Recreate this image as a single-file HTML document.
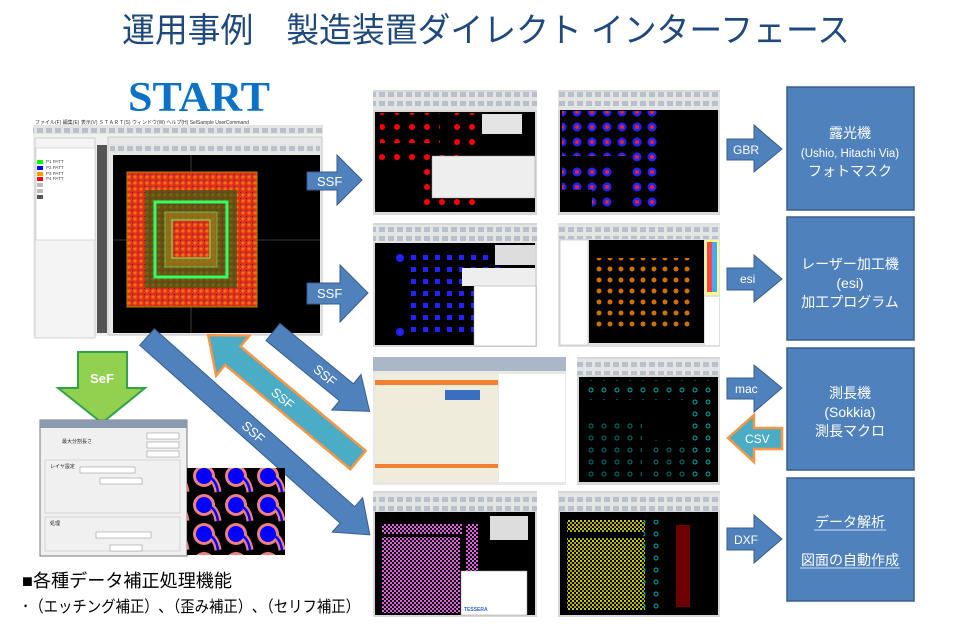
<!DOCTYPE html>
<html><head><meta charset="utf-8">
<style>
html,body{margin:0;padding:0;background:#fff;width:960px;height:626px;overflow:hidden}
svg{display:block}
text{font-family:"Liberation Sans","Noto Sans CJK JP",sans-serif}
</style></head><body>
<svg width="960" height="626" viewBox="0 0 960 626" xmlns="http://www.w3.org/2000/svg">
<defs>
<pattern id="red" width="15" height="15" patternUnits="userSpaceOnUse"><circle cx="7" cy="7" r="3" fill="#f00"/></pattern>
<pattern id="bluered" width="15" height="15" patternUnits="userSpaceOnUse"><circle cx="7" cy="7" r="4.5" fill="#22f"/><circle cx="7" cy="7" r="2" fill="#e22"/></pattern>
<pattern id="bluesq" width="12" height="12" patternUnits="userSpaceOnUse"><rect x="3" y="3" width="5" height="5" fill="#22f"/></pattern>
<pattern id="orange" width="11" height="11" patternUnits="userSpaceOnUse"><circle cx="5" cy="5" r="2.5" fill="#d07000"/></pattern>
<pattern id="pink" width="4" height="4" patternUnits="userSpaceOnUse"><rect width="2" height="2" fill="#e060e0"/><rect x="2" y="2" width="2" height="2" fill="#e060e0"/></pattern>
<pattern id="yel" width="4" height="4" patternUnits="userSpaceOnUse"><rect width="2" height="2" fill="#cc0"/><rect x="2" y="2" width="2" height="2" fill="#aa0"/></pattern>
<pattern id="cyanc" width="13" height="12" patternUnits="userSpaceOnUse"><circle cx="6" cy="6" r="2" fill="none" stroke="#0aa" stroke-width="1"/></pattern>
<pattern id="chip" width="6" height="6" patternUnits="userSpaceOnUse"><rect width="6" height="6" fill="#e03010"/><circle cx="3" cy="3" r="1.6" fill="#f07020"/><rect x="0" y="0" width="1" height="1" fill="#22a"/></pattern>
<pattern id="tb" width="9" height="9" patternUnits="userSpaceOnUse"><rect width="9" height="9" fill="#e4e4e4"/><rect x="1" y="2" width="6" height="5" fill="#b8c0cc"/></pattern>
<pattern id="pads" width="32" height="29" patternUnits="userSpaceOnUse"><rect width="32" height="29" fill="#000"/><path d="M14 12 Q24 14 26 28" stroke="#f08080" stroke-width="7" fill="none"/><circle cx="12" cy="12" r="11" fill="#f08080"/><circle cx="12" cy="12" r="8" fill="#0000ff"/><path d="M14 12 Q24 14 26 28" stroke="#00f" stroke-width="2.5" fill="none"/></pattern>
</defs>

<text x="122" y="42" font-size="34" fill="#1f497d" textLength="728" lengthAdjust="spacingAndGlyphs">運用事例　製造装置ダイレクト インターフェース</text>

<text x="128" y="111" font-size="42" font-weight="bold" fill="#0b72c6" style="font-family:'Liberation Serif',serif" textLength="142" lengthAdjust="spacingAndGlyphs">START</text>

<rect x="33" y="118" width="290" height="218" fill="#f0f0f0"/>
<rect x="33" y="118" width="290" height="7" fill="#fff"/>
<text x="35" y="124" font-size="5" fill="#333">ファイル(F)  編集(E)  表示(V)  ＳＴＡＲＴ(S)  ウィンドウ(W)  ヘルプ(H)  SelSample  UserCommand</text>
<rect x="33" y="125" width="290" height="9" fill="url(#tb)"/>
<rect x="35" y="138" width="60" height="200" fill="#f4f4f4" stroke="#aaa" stroke-width="0.5"/>
<rect x="36" y="148" width="59" height="92" fill="#fff" stroke="#bbb" stroke-width="0.5"/>
<rect x="37" y="160" width="6" height="4" fill="#0f0"/><rect x="37" y="166" width="6" height="4" fill="#00f"/><rect x="37" y="172" width="6" height="4" fill="#f90"/><rect x="37" y="177" width="6" height="4" fill="#f00"/><rect x="37" y="183" width="6" height="4" fill="#bbb"/><rect x="37" y="189" width="6" height="4" fill="#bbb"/><rect x="37" y="195" width="6" height="4" fill="#555"/>
<text x="46" y="163" font-size="4.5" fill="#444">P1 PATT</text><text x="46" y="169" font-size="4.5" fill="#444">P2 PATT</text><text x="46" y="175" font-size="4.5" fill="#444">P3 PATT</text><text x="46" y="180" font-size="4.5" fill="#444">P4 PATT</text>
<rect x="97" y="145" width="10" height="188" fill="#555"/>
<rect x="108" y="137" width="214" height="198" fill="#e8e8e8" stroke="#aaa" stroke-width="0.5"/>
<rect x="110" y="144" width="210" height="9" fill="url(#tb)"/>
<rect x="113" y="155" width="207" height="178" fill="#000"/>
<line x1="113" y1="240" x2="320" y2="240" stroke="#666" stroke-width="0.6"/>
<line x1="191" y1="155" x2="191" y2="333" stroke="#666" stroke-width="0.6"/>
<rect x="127" y="172" width="130" height="135" fill="url(#chip)" stroke="#aa8800"/>
<rect x="145" y="190" width="92" height="98" fill="#1a6010" opacity="0.6"/>
<rect x="155" y="202" width="72" height="75" fill="none" stroke="#33ff66" stroke-width="3"/>
<rect x="165" y="212" width="52" height="55" fill="#b08020" opacity="0.6" stroke="#6f6" stroke-width="1"/>
<rect x="172" y="220" width="38" height="38" fill="url(#chip)" stroke="#6f6"/>

<g>
<rect x="373" y="90" width="164" height="125" fill="#d8d8d8"/><rect x="373" y="92" width="164" height="18" fill="url(#tb)"/>
<rect x="375" y="112" width="160" height="100" fill="#000"/>
<rect x="380" y="113" width="60" height="30" fill="url(#red)"/><rect x="446" y="113" width="30" height="40" fill="url(#red)"/><rect x="378" y="150" width="50" height="18" fill="url(#red)"/><rect x="418" y="155" width="40" height="55" fill="url(#red)"/><rect x="448" y="160" width="28" height="52" fill="url(#red)"/>
<rect x="432" y="156" width="103" height="42" fill="#eee" stroke="#999" stroke-width="0.5"/><rect x="482" y="114" width="40" height="20" fill="#e4e4e4"/>
<rect x="558" y="90" width="162" height="125" fill="#d8d8d8"/><rect x="558" y="92" width="162" height="18" fill="url(#tb)"/>
<rect x="560" y="110" width="158" height="102" fill="#000"/>
<rect x="562" y="111" width="98" height="45" fill="url(#bluered)"/><rect x="632" y="111" width="27" height="100" fill="url(#bluered)"/><rect x="562" y="165" width="50" height="25" fill="url(#bluered)"/><rect x="592" y="170" width="25" height="42" fill="url(#bluered)"/>
<rect x="373" y="223" width="164" height="124" fill="#d8d8d8"/><rect x="373" y="225" width="164" height="18" fill="url(#tb)"/>
<rect x="375" y="243" width="160" height="102" fill="#000"/>
<rect x="405" y="248" width="100" height="90" fill="url(#bluesq)"/><circle cx="400" cy="258" r="4" fill="#22f"/><circle cx="400" cy="332" r="4" fill="#22f"/>
<rect x="462" y="268" width="73" height="18" fill="#eee"/><rect x="474" y="286" width="62" height="60" fill="#fff" stroke="#999" stroke-width="0.5"/><rect x="495" y="245" width="40" height="20" fill="#ddd"/>
<rect x="558" y="223" width="162" height="124" fill="#e0e0e0"/><rect x="558" y="225" width="162" height="14" fill="url(#tb)"/>
<rect x="560" y="240" width="28" height="105" fill="#fff" stroke="#aaa" stroke-width="0.5"/>
<rect x="589" y="240" width="115" height="103" fill="#000"/>
<rect x="594" y="258" width="100" height="70" fill="url(#orange)"/>
<rect x="705" y="240" width="14" height="55" fill="#ff8"/><rect x="707" y="242" width="5" height="50" fill="#f44"/><rect x="712" y="242" width="5" height="50" fill="#4af"/><rect x="705" y="297" width="14" height="48" fill="#fff"/>
<rect x="373" y="357" width="193" height="128" fill="#e8e8e8"/><rect x="373" y="357" width="193" height="14" fill="#4d6e96" opacity="0.4"/>
<rect x="375" y="374" width="123" height="108" fill="#f0ecdc"/><rect x="375" y="380" width="123" height="5" fill="#f08030"/><rect x="375" y="464" width="123" height="4" fill="#f08030"/><rect x="445" y="390" width="35" height="10" fill="#3a6fc0"/>
<rect x="499" y="374" width="66" height="108" fill="#fff"/>
<rect x="577" y="357" width="143" height="128" fill="#d8d8d8"/><rect x="577" y="359" width="143" height="16" fill="url(#tb)"/>
<rect x="579" y="377" width="139" height="105" fill="#000"/>
<rect x="582" y="380" width="135" height="20" fill="url(#cyanc)"/><rect x="690" y="400" width="27" height="80" fill="url(#cyanc)"/><rect x="582" y="420" width="60" height="60" fill="url(#cyanc)" opacity="0.7"/><rect x="650" y="440" width="40" height="40" fill="url(#cyanc)" opacity="0.7"/>
<rect x="373" y="491" width="164" height="126" fill="#d8d8d8"/><rect x="373" y="493" width="164" height="18" fill="url(#tb)"/>
<rect x="375" y="512" width="160" height="103" fill="#000"/>
<rect x="382" y="524" width="80" height="10" fill="url(#pink)"/><rect x="382" y="537" width="78" height="76" fill="url(#pink)"/><rect x="466" y="524" width="12" height="90" fill="url(#pink)"/>
<rect x="490" y="516" width="38" height="24" fill="#ddd"/><rect x="461" y="571" width="66" height="44" fill="#fff" stroke="#999" stroke-width="0.5"/><text x="464" y="611" font-size="5" fill="#36c" font-weight="bold">TESSERA</text>
<rect x="558" y="491" width="162" height="126" fill="#d8d8d8"/><rect x="558" y="493" width="162" height="18" fill="url(#tb)"/>
<rect x="560" y="512" width="158" height="103" fill="#000"/>
<rect x="567" y="520" width="78" height="12" fill="url(#yel)"/><rect x="567" y="538" width="78" height="72" fill="url(#yel)"/><rect x="643" y="520" width="18" height="90" fill="url(#cyanc)"/>
<rect x="676" y="525" width="14" height="82" fill="#800" opacity="0.8"/>
</g>

<path d="M307,172 L337,172 L337,155 L362,180 L337,205 L337,190 L307,190 Z" fill="#4f81bd" stroke="#385d8a"/>
<text x="317" y="186" font-size="13" fill="#fff">SSF</text>
<path d="M307,283 L340,283 L340,265 L368,293 L340,322 L340,304 L307,304 Z" fill="#4f81bd" stroke="#385d8a"/>
<text x="317" y="298" font-size="13" fill="#fff">SSF</text>

<g transform="translate(147,337) rotate(41.6)">
<path d="M0,-11 L268,-11 L268,-23 L298,0 L268,23 L268,11 L0,11 Z" fill="#4f81bd" stroke="#385d8a"/>
<text x="130" y="5" font-size="13" fill="#fff">SSF</text></g>
<g transform="translate(273,332) rotate(39.4)">
<path d="M0,-11 L95,-11 L95,-23 L125,0 L95,23 L95,11 L0,11 Z" fill="#4f81bd" stroke="#385d8a"/>
<text x="55" y="5" font-size="13" fill="#fff">SSF</text></g>
<g transform="translate(358,460) rotate(219.8)">
<path d="M0,-12 L163,-12 L163,-26 L195,0 L163,26 L163,12 L0,12 Z" fill="#4bacc6" stroke="#f79646" stroke-width="2.5"/></g>
<text transform="translate(283,398) rotate(39.8)" font-size="13" fill="#fff" text-anchor="middle" y="5">SSF</text>

<path d="M78,352 L127,352 L127,388 L145,388 L102,423 L58,388 L78,388 Z" fill="#92d050" stroke="#2ea34a" stroke-width="2"/>
<text x="102" y="383" font-size="13" font-weight="bold" fill="#fff" text-anchor="middle">SeF</text>

<rect x="40" y="420" width="147" height="136" fill="#f0f0f0" stroke="#777"/>
<rect x="40" y="420" width="147" height="8" fill="#8a9ab0"/>
<rect x="147" y="433" width="32" height="6" fill="#fff" stroke="#888" stroke-width="0.5"/><rect x="147" y="442" width="32" height="6" fill="#fff" stroke="#888" stroke-width="0.5"/><rect x="147" y="451" width="32" height="6" fill="#fff" stroke="#888" stroke-width="0.5"/>
<text x="62" y="443" font-size="5" fill="#222">最大分割長さ</text>
<rect x="45" y="460" width="135" height="53" fill="none" stroke="#bbb" stroke-width="0.5"/>
<text x="50" y="468" font-size="5" fill="#222">レイヤ設定</text>
<rect x="80" y="467" width="55" height="6" fill="#fff" stroke="#888" stroke-width="0.5"/>
<rect x="100" y="478" width="42" height="6" fill="#fff" stroke="#888" stroke-width="0.5"/>
<rect x="45" y="517" width="135" height="34" fill="none" stroke="#bbb" stroke-width="0.5"/>
<text x="50" y="525" font-size="5" fill="#222">処理</text>
<rect x="96" y="532" width="55" height="6" fill="#fff" stroke="#888" stroke-width="0.5"/>
<rect x="110" y="545" width="32" height="6" fill="#fff" stroke="#888" stroke-width="0.5"/>

<rect x="187" y="468" width="98" height="87" fill="url(#pads)"/>

<text x="22" y="587" font-size="18" fill="#000" textLength="210" lengthAdjust="spacingAndGlyphs">■各種データ補正処理機能</text>
<text x="22" y="612" font-size="16" fill="#000" textLength="338" lengthAdjust="spacingAndGlyphs">･（エッチング補正）､（歪み補正）､（セリフ補正）</text>

<path d="M727,139 L754,139 L754,125 L782,149 L754,172 L754,160 L727,160 Z" fill="#4f81bd" stroke="#385d8a"/>
<text x="733" y="154" font-size="12" fill="#fff">GBR</text>
<path d="M727,268 L754,268 L754,255 L782,279 L754,302 L754,290 L727,290 Z" fill="#4f81bd" stroke="#385d8a"/>
<text x="740" y="283" font-size="12" fill="#fff">esi</text>
<path d="M727,378 L754,378 L754,365 L782,388 L754,412 L754,399 L727,399 Z" fill="#4f81bd" stroke="#385d8a"/>
<text x="735" y="393" font-size="12" fill="#fff">mac</text>
<path d="M782,428 L754,428 L754,415 L728,438 L754,462 L754,449 L782,449 Z" fill="#4bacc6" stroke="#f79646" stroke-width="2.5"/>
<text x="745" y="443" font-size="12" fill="#fff">CSV</text>
<path d="M727,528 L754,528 L754,515 L782,539 L754,563 L754,550 L727,550 Z" fill="#4f81bd" stroke="#385d8a"/>
<text x="734" y="544" font-size="12" fill="#fff">DXF</text>

<g fill="#4f81bd" stroke="#385d8a" stroke-width="1.5">
<rect x="787" y="87" width="127" height="123"/>
<rect x="787" y="217" width="127" height="123"/>
<rect x="787" y="348" width="127" height="122"/>
<rect x="787" y="478" width="127" height="123"/>
</g>
<g fill="#fff" text-anchor="middle" font-size="14">
<text x="850" y="138">露光機</text>
<text x="850" y="157" font-size="11.5">(Ushio, Hitachi Via)</text>
<text x="850" y="176">フォトマスク</text>
<text x="850" y="269">レーザー加工機</text>
<text x="850" y="288">(esi)</text>
<text x="850" y="307">加工プログラム</text>
<text x="850" y="398">測長機</text>
<text x="850" y="417">(Sokkia)</text>
<text x="850" y="436">測長マクロ</text>
<text x="850" y="527">データ解析</text>
<text x="850" y="565">図面の自動作成</text>
</g>
<line x1="814" y1="530" x2="886" y2="530" stroke="#fff" stroke-width="0.8"/>
<line x1="800" y1="568" x2="900" y2="568" stroke="#fff" stroke-width="0.8"/>
</svg>
</body></html>
